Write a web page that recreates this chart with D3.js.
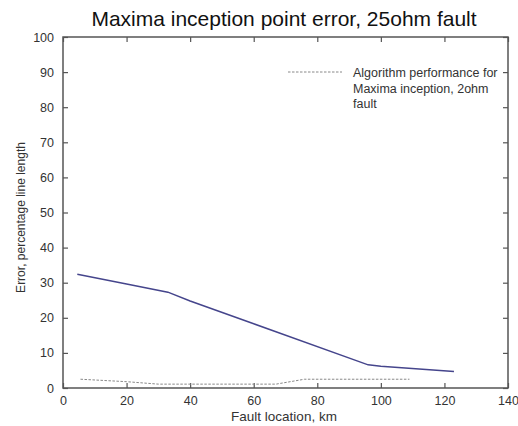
<!DOCTYPE html>
<html>
<head>
<meta charset="utf-8">
<script src="https://cdn.jsdelivr.net/npm/d3@7"></script>
<style>
  body { margin: 0; background: #fff; }
  text { font-family: "Liberation Sans", Arial, sans-serif; }
</style>
</head>
<body>
<div id="chart"></div>
<script>
// 25ohm fault, maxima inception error
const km25 = [4.5, 20, 33, 40, 60, 96, 100, 123];
const err25 = [32.4, 29.6, 27.3, 24.8, 18.3, 6.6, 6.2, 4.7];
// 2ohm fault (dashed)
const km2 = [5.5, 20, 30, 67, 76, 109];
const err2 = [2.5, 1.8, 1.1, 1.1, 2.5, 2.5];

const xTicks = [0, 20, 40, 60, 80, 100, 120, 140];
const yTicks = [0, 10, 20, 30, 40, 50, 60, 70, 80, 90, 100];
const legendLines = ["Algorithm performance for", "Maxima inception, 2ohm", "fault"];

const W = 518, H = 426;
const pL = 63, pR = 508, pT = 37, pB = 388; // plot box

const svg = d3.select("#chart").append("svg").attr("width", W).attr("height", H);

const x = d3.scaleLinear().domain([0, 140]).range([pL, pR]);
const y = d3.scaleLinear().domain([0, 100]).range([pB, pT]);

const axisCol = "#555";

// frame
svg.append("rect")
    .attr("x", pL).attr("y", pT)
    .attr("width", pR - pL).attr("height", pB - pT)
    .attr("fill", "none").attr("stroke", axisCol).attr("stroke-width", 1.5);

// ticks on all four sides, pointing in
const xa = svg.append("g").attr("transform", "translate(0," + pB + ")")
    .call(d3.axisBottom(x).tickValues(xTicks).tickSizeInner(-5).tickSizeOuter(0).tickPadding(8));
const xt = svg.append("g").attr("transform", "translate(0," + pT + ")")
    .call(d3.axisTop(x).tickValues(xTicks).tickSizeInner(-5).tickSizeOuter(0).tickFormat(""));
const ya = svg.append("g").attr("transform", "translate(" + pL + ",0)")
    .call(d3.axisLeft(y).tickValues(yTicks).tickSizeInner(-5).tickSizeOuter(0).tickPadding(9));
const yr = svg.append("g").attr("transform", "translate(" + pR + ",0)")
    .call(d3.axisRight(y).tickValues(yTicks).tickSizeInner(-5).tickSizeOuter(0).tickFormat(""));

[xa, xt, ya, yr].forEach(g => {
    g.select(".domain").remove();
    g.selectAll(".tick line").attr("stroke", axisCol).attr("stroke-width", 1.2);
    g.selectAll(".tick text").attr("fill", "#333").style("font-size", "12.5px")
        .style("font-family", "'Liberation Sans', Arial, sans-serif");
});

// series
const line = d3.line().x(d => x(d[0])).y(d => y(d[1]));

svg.append("path")
    .datum(d3.zip(km25, err25))
    .attr("d", line)
    .attr("fill", "none")
    .attr("stroke", "#45458c")
    .attr("stroke-width", 1.5);

svg.append("path")
    .datum(d3.zip(km2, err2))
    .attr("d", line)
    .attr("fill", "none")
    .attr("stroke", "#888")
    .attr("stroke-width", 1)
    .attr("stroke-dasharray", "2.5,1.5");

// legend
svg.append("line")
    .attr("x1", 288).attr("x2", 342).attr("y1", 72).attr("y2", 72)
    .attr("stroke", "#888").attr("stroke-width", 1).attr("stroke-dasharray", "2.5,1.5");

svg.append("g").selectAll("text")
    .data(legendLines)
    .join("text")
    .attr("x", 353)
    .attr("y", (d, i) => 77 + i * 15.5)
    .attr("fill", "#333")
    .style("font-size", "12.5px")
    .text(d => d);

// title and labels
svg.append("text")
    .attr("x", 284).attr("y", 26)
    .attr("text-anchor", "middle")
    .attr("fill", "#111")
    .style("font-size", "21px")
    .text("Maxima inception point error, 25ohm fault");

svg.append("text")
    .attr("x", 284).attr("y", 421)
    .attr("text-anchor", "middle")
    .attr("fill", "#333")
    .style("font-size", "13.5px")
    .text("Fault location, km");

svg.append("text")
    .attr("transform", "translate(25," + ((pT + pB) / 2 + 5) + ") rotate(-90)")
    .attr("text-anchor", "middle")
    .attr("fill", "#333")
    .style("font-size", "12px")
    .text("Error, percentage line length");
</script>
</body>
</html>
